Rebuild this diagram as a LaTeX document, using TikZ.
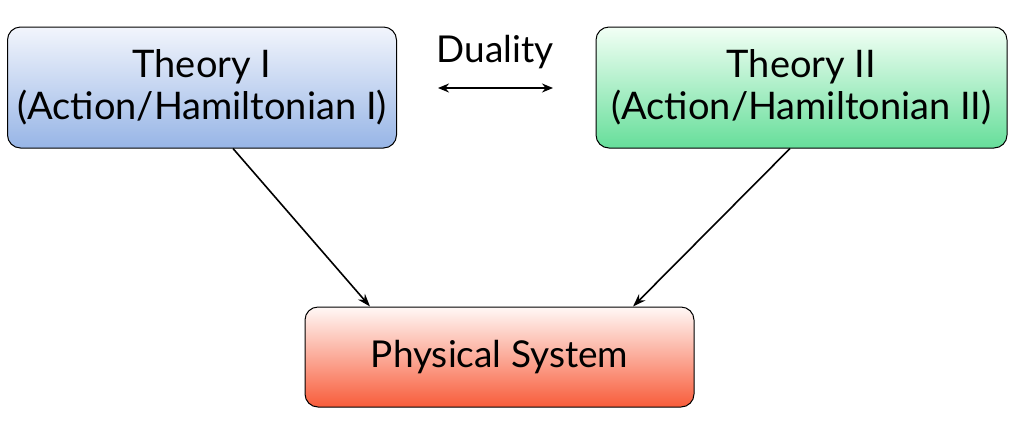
\documentclass[tikz,border=0pt]{standalone}
\usepackage{fontspec}
\setmainfont{Lato}
\usetikzlibrary{arrows.meta}
\definecolor{blueT}{HTML}{F2F5FC}
\definecolor{blueB}{HTML}{97B5E6}
\definecolor{greenT}{HTML}{F2FFF5}
\definecolor{greenB}{HTML}{66DE9A}
\definecolor{redT}{HTML}{FFF8F6}
\definecolor{redB}{HTML}{F85C3A}
\tikzset{
  theorybox/.style={draw=black, line width=1pt, rounded corners=13pt, align=center, inner sep=0pt, font=\fontsize{38}{42}\selectfont},
  conn/.style={-{Stealth[length=13pt,width=9pt]}, line width=1.6pt}
}
\begin{document}
\begin{tikzpicture}[x=1pt,y=-1pt]
\useasboundingbox (0,0) rectangle (1016,429);
\node[theorybox, minimum width=389pt, minimum height=121pt, top color=blueT, bottom color=blueB] (t1) at (202,87.5) {Theory I\\(Action/Hamiltonian I)};
\node[theorybox, minimum width=411pt, minimum height=121pt, top color=greenT, bottom color=greenB] (t2) at (801.5,87.5) {Theory II\\(Action/Hamiltonian II)};
\node[theorybox, minimum width=389pt, minimum height=100pt, top color=redT, bottom color=redB, font=\fontsize{37}{40}\selectfont] (ps) at (499.5,357) {Physical System};
\node[font=\fontsize{37}{40}\selectfont, inner sep=0pt, anchor=base] (dual) at (495,62) {Duality};
\coordinate (dl) at (438,88);
\coordinate (dr) at (553,88);
\draw[{Stealth[length=11pt,width=9pt]}-{Stealth[length=11pt,width=9pt]}, line width=1.5pt] (dl) -- (dr);
\draw[conn] (t1.south -| 233,0) -- (ps.north -| 370,0);
\draw[conn] (t2.south -| 790,0) -- (ps.north -| 633,0);
\end{tikzpicture}
\end{document}
